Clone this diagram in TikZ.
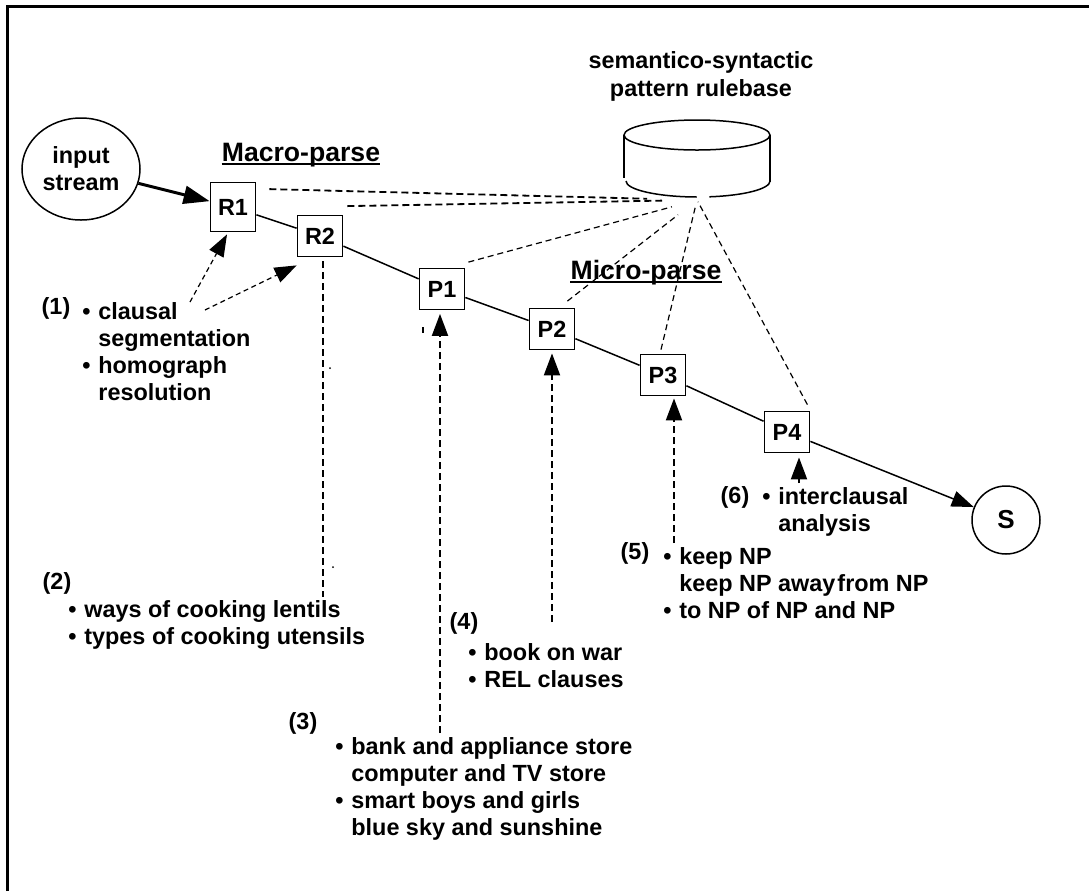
\documentclass[tikz,border=0pt]{standalone}
\usepackage{fontspec}
\setmainfont{Liberation Sans}
\usetikzlibrary{arrows.meta,calc,shapes.geometric}

% bullet items with a hanging indent
\newcommand{\itm}{\makebox[8pt][l]{•}}
\newcommand{\cnt}{\hspace*{8pt}}

\begin{document}
\begin{tikzpicture}[x=0.5pt,y=-0.5pt,
  every node/.style={font=\fontsize{11.7}{13.5}\selectfont\bfseries, inner sep=0pt},
  stage/.style={draw, line width=0.9pt, minimum width=22.5pt, minimum height=20.5pt, fill=white},
  flow/.style={line width=0.75pt},
  headed/.style={-{Triangle[width=8pt,length=11pt]}},
  rulelink/.style={dash pattern=on 3pt off 2pt, line width=0.6pt},
  rulelinkB/.style={dash pattern=on 3.5pt off 2pt, line width=0.9pt},
  hint/.style={dash pattern=on 2.5pt off 1.8pt, line width=0.6pt, headed},
  feed/.style={dash pattern=on 3.5pt off 2pt, line width=1pt, headed},
  vline/.style={dash pattern=on 3.5pt off 2pt, line width=1pt},
  lbl/.style={font=\fontsize{13.3}{15}\selectfont\bfseries, anchor=base},
  block/.style={anchor=west, align=left}
]
\useasboundingbox (0,0) rectangle (1089,891);

% frame
\draw[line width=1.5pt] (7,891) -- (7,6.5) -- (1089,6.5);

% rulebase store
\node[align=center, font=\fontsize{11.7}{14}\selectfont\bfseries] (rb) at (701,76) {semantico-syntactic\\pattern rulebase};
\draw[line width=0.75pt] (697,135) ellipse [x radius=73, y radius=15];
\draw[line width=0.75pt] (624,135) -- (624,178);
\draw[line width=0.75pt] (770,135) -- (770,182);
\draw[line width=0.75pt] (626,181) arc[start angle=180, end angle=91, x radius=72, y radius=16];
\draw[line width=0.75pt] (709.3,196.8) arc[start angle=81, end angle=0, x radius=72, y radius=16];
\coordinate (hub) at (697,200);

% input and stages
\node[draw, ellipse, line width=0.75pt, minimum width=59pt, minimum height=51pt, align=center] (in) at (81,169) {input\\stream};
\node[stage, minimum height=24.5pt] (R1) at (233,207) {R1};
\node[stage] (R2) at (320,236) {R2};
\node[stage] (P1) at (442,289) {P1};
\node[stage] (P2) at (552,329) {P2};
\node[stage] (P3) at (663,375) {P3};
\node[stage] (P4) at (787,432) {P4};
\node[draw, circle, minimum size=34pt, line width=0.75pt, font=\fontsize{13}{15}\selectfont\bfseries] (S) at (1006,520) {S};

% phase headings
\node[lbl] (mac) at (301,161) {Macro-parse};
\draw[line width=1pt] ([yshift=-1.25pt]mac.base west) -- ([yshift=-1.25pt]mac.base east);
\node[lbl] (mic) at (646,279) {Micro-parse};
\draw[line width=1pt] ([yshift=-1.25pt]mic.base west) -- ([yshift=-1.25pt]mic.base east);

% main flow
\draw[line width=1.5pt, -{Triangle[width=9pt,length=13pt]}] (in) -- (R1);
\draw[flow] (R1) -- (R2) -- (P1) -- (P2) -- (P3) -- (P4);
\draw[flow, headed] (P4) -- (S);

% links to the rulebase
\draw[rulelinkB, shorten >=25pt] ([shift={(13,7.5)}]R1.north east) -- (hub);
\draw[rulelinkB, shorten >=17.5pt] ([shift={(4,-8.5)}]R2.north east) -- (hub);
\draw[rulelink, shorten >=13pt] ([shift={(3,-5.5)}]P1.north east) -- (hub);
\draw[rulelink, shorten >=12pt] ([shift={(-8,-6.5)}]P2.north east) -- (hub);
\draw[rulelink, shorten >=4pt] ([shift={(-2,-4)}]P3.north) -- (hub);
\draw[rulelink, shorten >=1pt] ([shift={(-3,-6)}]P4.north east) -- (hub);

% (1)
\node (l1) at (56,308) {(1)};
\node[block] (t1) at (82,352) {\itm clausal\\\cnt segmentation\\\itm homograph\\\cnt resolution};
\coordinate (s1a) at (190,302);
\coordinate (s1b) at (205,310);
\draw[hint] (s1a) -- ([shift={(-6,2)}]R1.south);
\draw[hint] (s1b) -- ([shift={(0,8)}]R2.south west);

% (2)
\coordinate (e0) at (323,597);
\draw[vline, shorten <=2pt] (R2.south -| e0) -- (e0);
\node (l2) at (57,583) {(2)};
\node[block] (t2) at (68,625) {\itm ways of cooking lentils\\\itm types of cooking utensils};

% (3)
\coordinate (e1) at (440,733);
\draw[feed, shorten >=1.75pt] (e1) -- (e1 |- P1.south);
\node (l3) at (303,723) {(3)};
\node[block] (t3) at (335,789) {\itm bank and appliance store\\\cnt computer and TV store\\\itm smart boys and girls\\\cnt blue sky and sunshine};

% (4)
\coordinate (e2) at (552,622);
\draw[feed, shorten >=1.5pt] (e2) -- (e2 |- P2.south);
\node (l4) at (464,623) {(4)};
\node[block] (t4) at (468,666) {\itm book on war\\\itm REL clauses};

% (5)
\coordinate (e3) at (674,543);
\draw[feed, shorten >=1pt] (e3) -- (e3 |- P3.south);
\node (l5) at (635,553) {(5)};
\node[block] (t5) at (663,583) {\itm keep NP\\\cnt keep NP away\hspace{1pt}from NP\\\itm to NP of NP and NP};

% (6)
\coordinate (e4) at (799,483);
\draw[feed, shorten >=2pt] (e4) -- (e4 |- P4.south);
\node (l6) at (735,497) {(6)};
\node[block] (t6) at (762,512) {\itm interclausal\\\cnt analysis};

% stray specks
\fill (330,368) circle[radius=1];
\fill (333,567) circle[radius=1];
\draw[line width=0.8pt] (423,327) -- (423,333);
\end{tikzpicture}
\end{document}
